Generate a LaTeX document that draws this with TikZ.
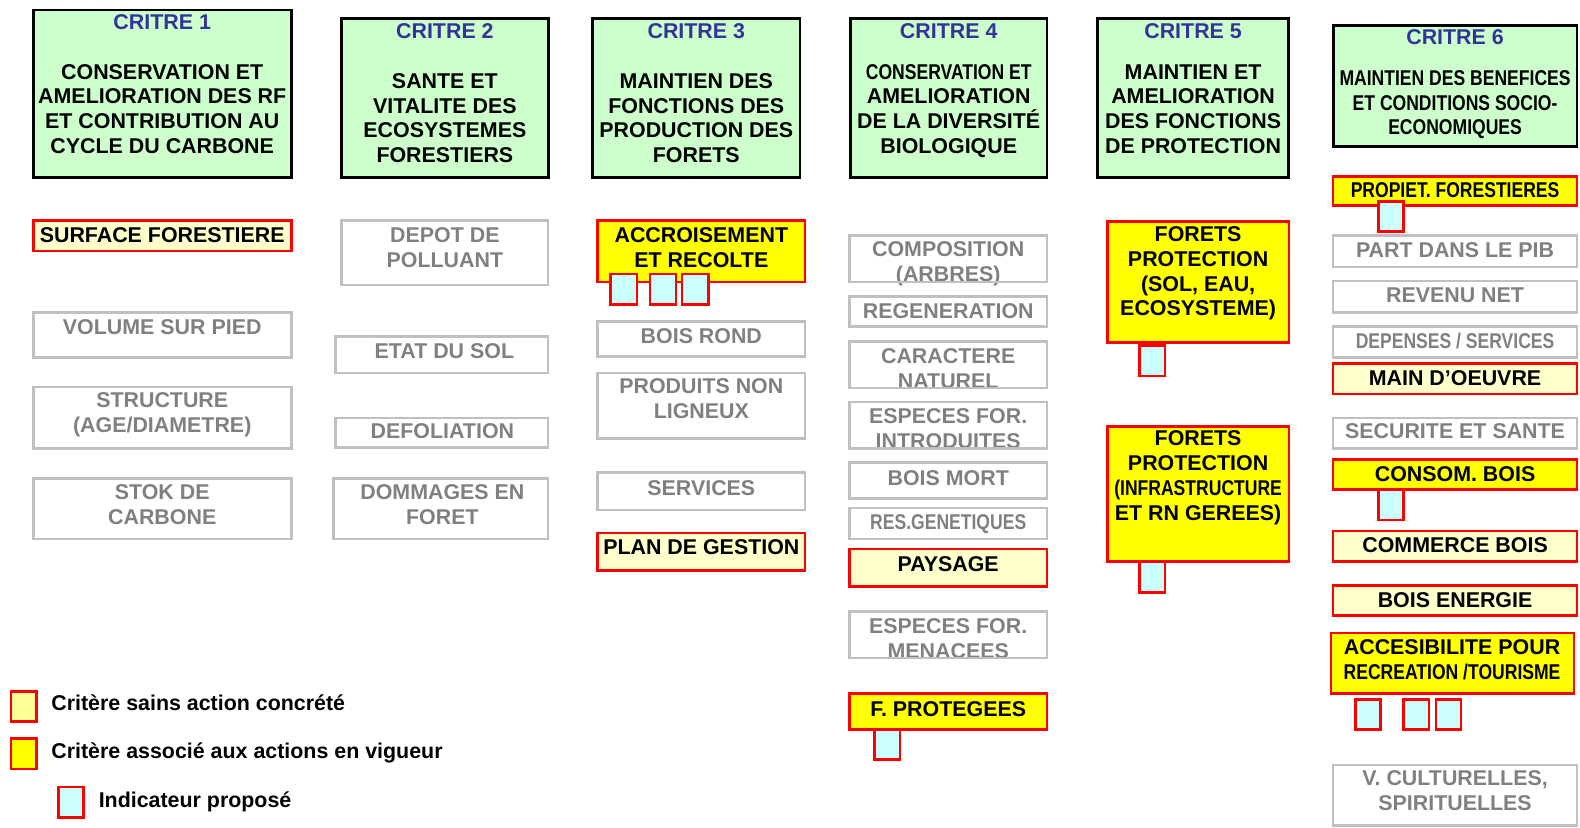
\documentclass[tikz,border=0pt]{standalone}
\usepackage{fontspec}
\setmainfont{Liberation Sans}
\newfontfamily\narrow[FakeStretch=0.82]{Liberation Sans}
\usetikzlibrary{fit}
\definecolor{cgreen}{HTML}{CCFFCC}
\definecolor{cblue}{HTML}{333399}
\definecolor{cgray}{HTML}{C0C0C0}
\definecolor{tgray}{HTML}{808080}
\definecolor{cred}{HTML}{FF0000}
\definecolor{cyel}{HTML}{FFFF00}
\definecolor{clyel}{HTML}{FFFFCC}
\definecolor{llyel}{HTML}{FFFF99}
\definecolor{ccyan}{HTML}{CCFFFF}
\newcommand\bx[6]{\node[#2, fit={(#3,#4) (#5,#6)}] (#1) {};}
\newcommand\tx[5][]{\node[txt,#1] (#2) at (#3,{#4+7.6}) {\parbox[t]{170pt}{\centering #5}};}
\begin{document}
\begin{tikzpicture}[x=0.5039pt,y=-0.5039pt,
 every node/.style={inner sep=0pt, outer sep=0pt},
 crit/.style={draw=black, fill=cgreen, line width=1.4pt},
 gbox/.style={draw=cgray, line width=1.3pt},
 lybox/.style={draw=cred, fill=clyel, line width=1.3pt},
 ybox/.style={draw=cred, fill=cyel, line width=1.3pt},
 ind/.style={draw=cred, fill=ccyan, line width=1.3pt},
 legy/.style={draw=cred, fill=llyel, line width=1.3pt},
 txt/.style={anchor=base, font=\fontsize{10.7}{12.4}\selectfont\bfseries},
 gtxt/.style={txt, text=tgray},
 ttl/.style={txt, text=cblue},
]
\useasboundingbox (0,0) rectangle (1568,821);
\fill[white] (0,0) rectangle (1568,821);

% ---- criteria
\bx{c1}{crit}{33}{10}{289}{176}
\tx[ttl]{c1t}{161}{22}{CRITRE 1}
\tx{c1b}{161}{71}{CONSERVATION ET\\AMELIORATION DES RF\\ET CONTRIBUTION AU\\CYCLE DU CARBONE}
\bx{c2}{crit}{339}{18}{544}{176}
\tx[ttl]{c2t}{441.5}{31}{CRITRE 2}
\tx{c2b}{441.5}{80}{SANTE ET\\VITALITE DES\\ECOSYSTEMES\\FORESTIERS}
\bx{c3}{crit}{588}{18}{794}{176}
\tx[ttl]{c3t}{691}{31}{CRITRE 3}
\tx{c3b}{691}{80}{MAINTIEN DES\\FONCTIONS DES\\PRODUCTION DES\\FORETS}
\bx{c4}{crit}{844}{18}{1039}{176}
\tx[ttl]{c4t}{941.5}{31}{CRITRE 4}
\tx{c4b}{941.5}{71}{{\narrow CONSERVATION ET}\\AMELIORATION\\DE LA DIVERSITÉ\\BIOLOGIQUE}
\bx{c5}{crit}{1089}{18}{1279}{176}
\tx[ttl]{c5t}{1184}{31}{CRITRE 5}
\tx{c5b}{1184}{71}{MAINTIEN ET\\AMELIORATION\\DES FONCTIONS\\DE PROTECTION}
\bx{c6}{crit}{1323}{25}{1565}{145}
\tx[ttl]{c6t}{1444}{37}{CRITRE 6}
\tx{c6b}{1444}{77}{\narrow MAINTIEN DES BENEFICES\\ET CONDITIONS SOCIO-\\ECONOMIQUES}

% ---- column 1
\bx{i11}{lybox}{33}{219}{289}{249}
\tx{i11t}{161}{233}{SURFACE FORESTIERE}
\tx[gtxt]{i12t}{161}{324}{VOLUME SUR PIED}
\bx{i12}{gbox}{33}{310}{289}{355}
\tx[gtxt]{i13t}{161}{397}{STRUCTURE\\(AGE/DIAMETRE)}
\bx{i13}{gbox}{33}{384}{289}{445}
\tx[gtxt]{i14t}{161}{488}{STOK DE\\CARBONE}
\bx{i14}{gbox}{33}{475}{289}{535}

% ---- column 2
\tx[gtxt]{i21t}{441.5}{233}{DEPOT DE\\POLLUANT}
\bx{i21}{gbox}{339}{219}{544}{283}
\tx[gtxt]{i22t}{441}{348}{ETAT DU SOL}
\bx{i22}{gbox}{333}{334}{544}{370}
\tx[gtxt]{i23t}{439}{428}{DEFOLIATION}
\bx{i23}{gbox}{333}{415}{544}{444}
\tx[gtxt]{i24t}{439}{488}{DOMMAGES EN\\FORET}
\bx{i24}{gbox}{331}{475}{544}{535}

% ---- column 3
\bx{i31}{ybox}{593}{219}{799}{280}
\tx{i31t}{696}{233}{ACCROISEMENT\\ET RECOLTE}
\bx{p31}{ind}{606}{272}{632}{302}
\bx{p32}{ind}{645}{272}{671}{302}
\bx{p33}{ind}{677}{272}{703}{302}
\tx[gtxt]{i32t}{696}{333}{BOIS ROND}
\bx{i32}{gbox}{593}{319}{799}{354}
\tx[gtxt]{i33t}{696}{383}{PRODUITS NON\\LIGNEUX}
\bx{i33}{gbox}{593}{370}{799}{435}
\tx[gtxt]{i34t}{696}{484}{SERVICES}
\bx{i34}{gbox}{593}{469}{799}{506}
\bx{i35}{lybox}{593}{529}{799}{566}
\tx{i35t}{696}{543}{PLAN DE GESTION}

% ---- column 4
\tx[gtxt]{i41t}{941}{247}{COMPOSITION\\(ARBRES)}
\bx{i41}{gbox}{843}{234}{1039}{280}
\tx[gtxt]{i42t}{941}{308}{REGENERATION}
\bx{i42}{gbox}{843}{294}{1039}{324}
\tx[gtxt]{i43t}{941}{353}{CARACTERE\\NATUREL}
\bx{i43}{gbox}{843}{339}{1039}{385}
\tx[gtxt]{i44t}{941}{413}{ESPECES FOR.\\INTRODUITES}
\bx{i44}{gbox}{843}{399}{1039}{445}
\tx[gtxt]{i45t}{941}{474}{BOIS MORT}
\bx{i45}{gbox}{843}{459}{1039}{495}
\tx[gtxt]{i46t}{941}{518}{\narrow RES.GENETIQUES}
\bx{i46}{gbox}{843}{504}{1039}{535}
\bx{i47}{lybox}{843}{545}{1039}{582}
\tx{i47t}{941}{560}{PAYSAGE}
\tx[gtxt]{i48t}{941}{621}{ESPECES FOR.\\MENACEES}
\bx{i48}{gbox}{843}{607}{1039}{653}
\bx{i49}{ybox}{843}{688}{1039}{724}
\tx{i49t}{941}{703}{F. PROTEGEES}
\bx{p41}{ind}{868}{724}{893}{754}

% ---- column 5
\bx{i51}{ybox}{1099}{220}{1279}{340}
\tx{i51t}{1189}{232}{FORETS\\PROTECTION\\(SOL, EAU,\\ECOSYSTEME)}
\bx{p51}{ind}{1131}{343}{1156}{373}
\bx{i52}{ybox}{1099}{423}{1279}{557}
\tx{i52t}{1189}{435}{FORETS\\PROTECTION\\{\narrow(INFRASTRUCTURE}\\ET RN GEREES)}
\bx{p52}{ind}{1131}{557}{1156}{588}

% ---- column 6
\bx{i61}{ybox}{1323}{175}{1565}{204}
\tx{i61t}{1444}{188}{\narrow PROPIET. FORESTIERES}
\bx{p61}{ind}{1368}{200}{1393}{230}
\tx[gtxt]{i62t}{1444}{248}{PART DANS LE PIB}
\bx{i62}{gbox}{1323}{234}{1565}{265}
\tx[gtxt]{i63t}{1444}{293}{REVENU NET}
\bx{i63}{gbox}{1323}{279}{1565}{310}
\tx[gtxt]{i64t}{1444}{338}{\narrow DEPENSES / SERVICES}
\bx{i64}{gbox}{1323}{324}{1565}{355}
\bx{i65}{lybox}{1323}{361}{1565}{391}
\tx{i65t}{1444}{375}{MAIN D’OEUVRE}
\tx[gtxt]{i66t}{1444}{428}{SECURITE ET SANTE}
\bx{i66}{gbox}{1323}{415}{1565}{445}
\bx{i67}{ybox}{1323}{456}{1565}{486}
\tx{i67t}{1444}{470}{CONSOM. BOIS}
\bx{p62}{ind}{1368}{486}{1393}{516}
\bx{i68}{lybox}{1323}{527}{1565}{557}
\tx{i68t}{1444}{541}{COMMERCE BOIS}
\bx{i69}{lybox}{1323}{581}{1565}{611}
\tx{i69t}{1444}{595}{BOIS ENERGIE}
\bx{i6a}{ybox}{1321}{628}{1562}{688}
\tx{i6at}{1441}{642}{ACCESIBILITE POUR\\{\narrow RECREATION /TOURISME}}
\bx{p63}{ind}{1345}{694}{1370}{724}
\bx{p64}{ind}{1393}{694}{1418}{724}
\bx{p65}{ind}{1425}{694}{1450}{724}
\tx[gtxt]{i6bt}{1444}{772}{V. CULTURELLES,\\SPIRITUELLES}
\bx{i6b}{gbox}{1323}{759}{1565}{819}

% ---- legend
\bx{L1}{legy}{11}{686}{36}{716}
\node[txt, anchor=base west] (L1t) at (51,705) {Critère sains action concrété};
\bx{L2}{ybox}{11}{733}{36}{763}
\node[txt, anchor=base west] (L2t) at (51,753) {Critère associé aux actions en vigueur};
\bx{L3}{ind}{58}{781}{83}{811}
\node[txt, anchor=base west] (L3t) at (98,801) {Indicateur proposé};
\end{tikzpicture}
\end{document}
